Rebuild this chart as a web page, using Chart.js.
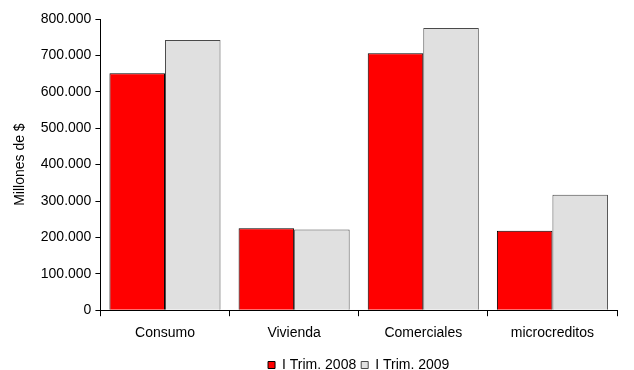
<!DOCTYPE html>
<html>
<head>
<meta charset="utf-8">
<script src="https://cdn.jsdelivr.net/npm/chart.js@4"></script>
<style>
  html, body { margin: 0; padding: 0; background: #fff; }
  #wrap { width: 634px; height: 370px; }
</style>
</head>
<body>
<div id="wrap"><canvas id="chart" width="634" height="370"></canvas></div>
<script>
// data
const categories = ["Consumo", "Vivienda", "Comerciales", "microcreditos"];
const trim2008 = [651000, 225000, 706000, 218000];
const trim2009 = [742000, 222000, 775000, 317000];
const seriesNames = ["I Trim. 2008", "I Trim. 2009"];
const yTicks = [0, 100000, 200000, 300000, 400000, 500000, 600000, 700000, 800000];

const font = "'Liberation Sans', Arial, sans-serif";

function fmt(v) {
  if (v === 0) return "0";
  return String(v).replace(/\B(?=(\d{3})+(?!\d))/g, ".");
}

// legend sits centred under the plot area, not the whole canvas,
// and a couple of px lower than chart.js puts it
const centerLegend = {
  id: "centerLegend",
  afterLayout(chart) {
    const lg = chart.legend;
    lg.left = chart.chartArea.left;
    lg.right = chart.chartArea.right;
    lg.top += 2;
    lg.bottom += 2;
  },
};

new Chart(document.getElementById("chart"), {
  type: "bar",
  data: {
    labels: categories,
    datasets: [
      {
        label: seriesNames[0],
        data: trim2008,
        backgroundColor: "#ff0000",
        borderColor: "#000000",
        borderWidth: 1,
        categoryPercentage: 0.86,
        barPercentage: 1.0,
      },
      {
        label: seriesNames[1],
        data: trim2009,
        backgroundColor: "#e0e0e0",
        borderColor: "#4a4a4a",
        borderWidth: 1,
        categoryPercentage: 0.86,
        barPercentage: 1.0,
      },
    ],
  },
  options: {
    responsive: false,
    animation: false,
    layout: { padding: { top: 19, right: 17, left: 12, bottom: -10 } },
    plugins: {
      tooltip: { enabled: false },
      legend: {
        position: "bottom",
        labels: {
          color: "#000",
          font: { family: font, size: 14 },
          boxWidth: 7,
          boxHeight: 7,
          padding: 5,
        },
      },
    },
    scales: {
      x: {
        offset: true,
        grid: { display: true, drawOnChartArea: false, drawTicks: true, tickLength: 6, color: "#000", offset: true },
        border: { color: "#000", width: 1 },
        ticks: { color: "#000", font: { family: font, size: 14 }, padding: 9 },
      },
      y: {
        min: 0,
        max: 800000,
        afterBuildTicks: (axis) => { axis.ticks = yTicks.map((v) => ({ value: v })); },
        grid: { display: true, drawOnChartArea: false, drawTicks: true, tickLength: 5, color: "#000" },
        border: { color: "#000", width: 1 },
        ticks: { color: "#000", font: { family: font, size: 14 }, padding: 4, callback: (v) => fmt(v) },
        title: { display: true, text: "Millones de $", color: "#000", font: { family: font, size: 14 }, padding: { top: 0, bottom: 8 } },
      },
    },
  },
  plugins: [centerLegend],
});
</script>
</body>
</html>
